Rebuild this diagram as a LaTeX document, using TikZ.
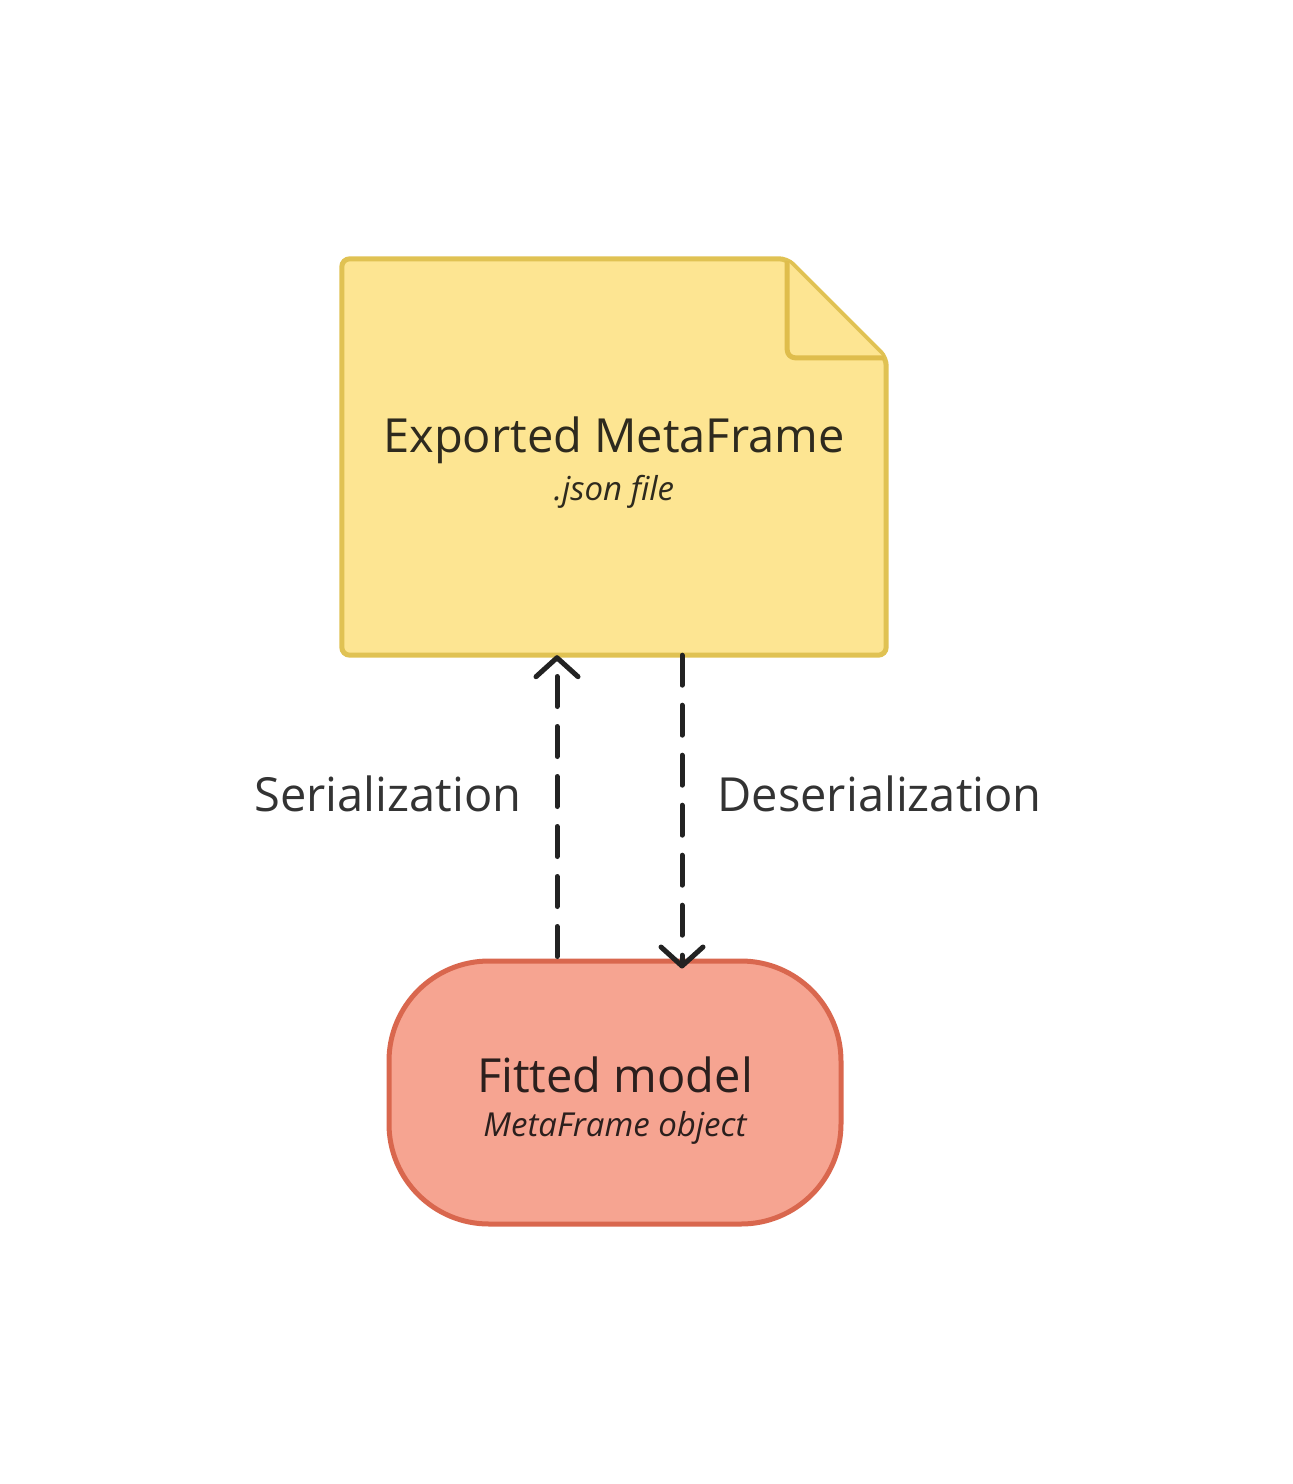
\documentclass[tikz,border=0pt]{standalone}
\usepackage{fontspec}
\setmainfont{Open Sans}
\usetikzlibrary{arrows.meta,calc}
\definecolor{docfill}{HTML}{FDE592}
\definecolor{docdraw}{HTML}{E0C253}
\definecolor{docfold}{HTML}{DFBD4C}
\definecolor{pillfill}{HTML}{F6A491}
\definecolor{pilldraw}{HTML}{D9674E}
\definecolor{doctext}{HTML}{2E2A1E}
\definecolor{pilltext}{HTML}{2B1F1D}
\definecolor{linecol}{HTML}{222222}
\definecolor{labelcol}{HTML}{333333}
\tikzset{
  x=1pt,y=1pt,
  titletext/.style={font=\fontsize{47}{52}\selectfont},
  subtext/.style={font=\fontsize{33}{38}\selectfont\itshape},
  labeltext/.style={font=\fontsize{47}{52}\selectfont, text=labelcol},
  flow/.style={draw=linecol, line width=5pt, line cap=round, dash pattern=on 30pt off 20pt,
    -{Straight Barb[length=19pt,width=42pt,line width=5pt,line cap=round,line join=round]}},
}
\begin{document}
\begin{tikzpicture}
\useasboundingbox (0,0) rectangle (1293,-1484);
% document shape
\node[minimum width=544pt, minimum height=396pt, inner sep=0pt] (doc) at (614,-457) {};
\draw[fill=docfill, draw=docdraw, line width=5pt, rounded corners=8pt]
  (doc.north west) -- ($(doc.north east)+(-99,0)$) -- ($(doc.north east)+(0,-99)$) -- (doc.south east) -- (doc.south west) -- cycle;
\draw[fill=docfill, draw=docfold, line width=5pt, line join=round]
  ($(doc.north east)+(-99,-2)$) [rounded corners=8pt] -- ($(doc.north east)+(-99,-99)$) [sharp corners] -- ($(doc.north east)+(-2,-99)$);
\node[titletext, text=doctext] (doctitle) at (614,-440) {Exported MetaFrame};
\node[subtext, text=doctext] (docsub) at (614,-492) {.json file};
% pill
\node[draw=pilldraw, fill=pillfill, line width=5pt, rounded corners=100pt, minimum width=452pt, minimum height=263pt, inner sep=0pt] (pill) at (615,-1092.5) {};
\node[titletext, text=pilltext] (pilltitle) at (615,-1075) {Fitted model};
\node[subtext, text=pilltext] (pillsub) at (615,-1128) {MetaFrame object};
% connectors
\coordinate (sstart) at ($(pill.north)+(-58,2)$);
\coordinate (send) at (sstart |- doc.south);
\coordinate (dstart) at ($(doc.south)+(68,0)$);
\coordinate (dend) at ($(dstart |- pill.north)+(0,-10)$);
\draw[flow] (sstart) -- (send);
\draw[flow] (dstart) -- (dend);
\node[labeltext, anchor=east] (ser) at (525,-794) {Serialization};
\node[labeltext, anchor=west] (deser) at (714,-794) {Deserialization};
\end{tikzpicture}
\end{document}
